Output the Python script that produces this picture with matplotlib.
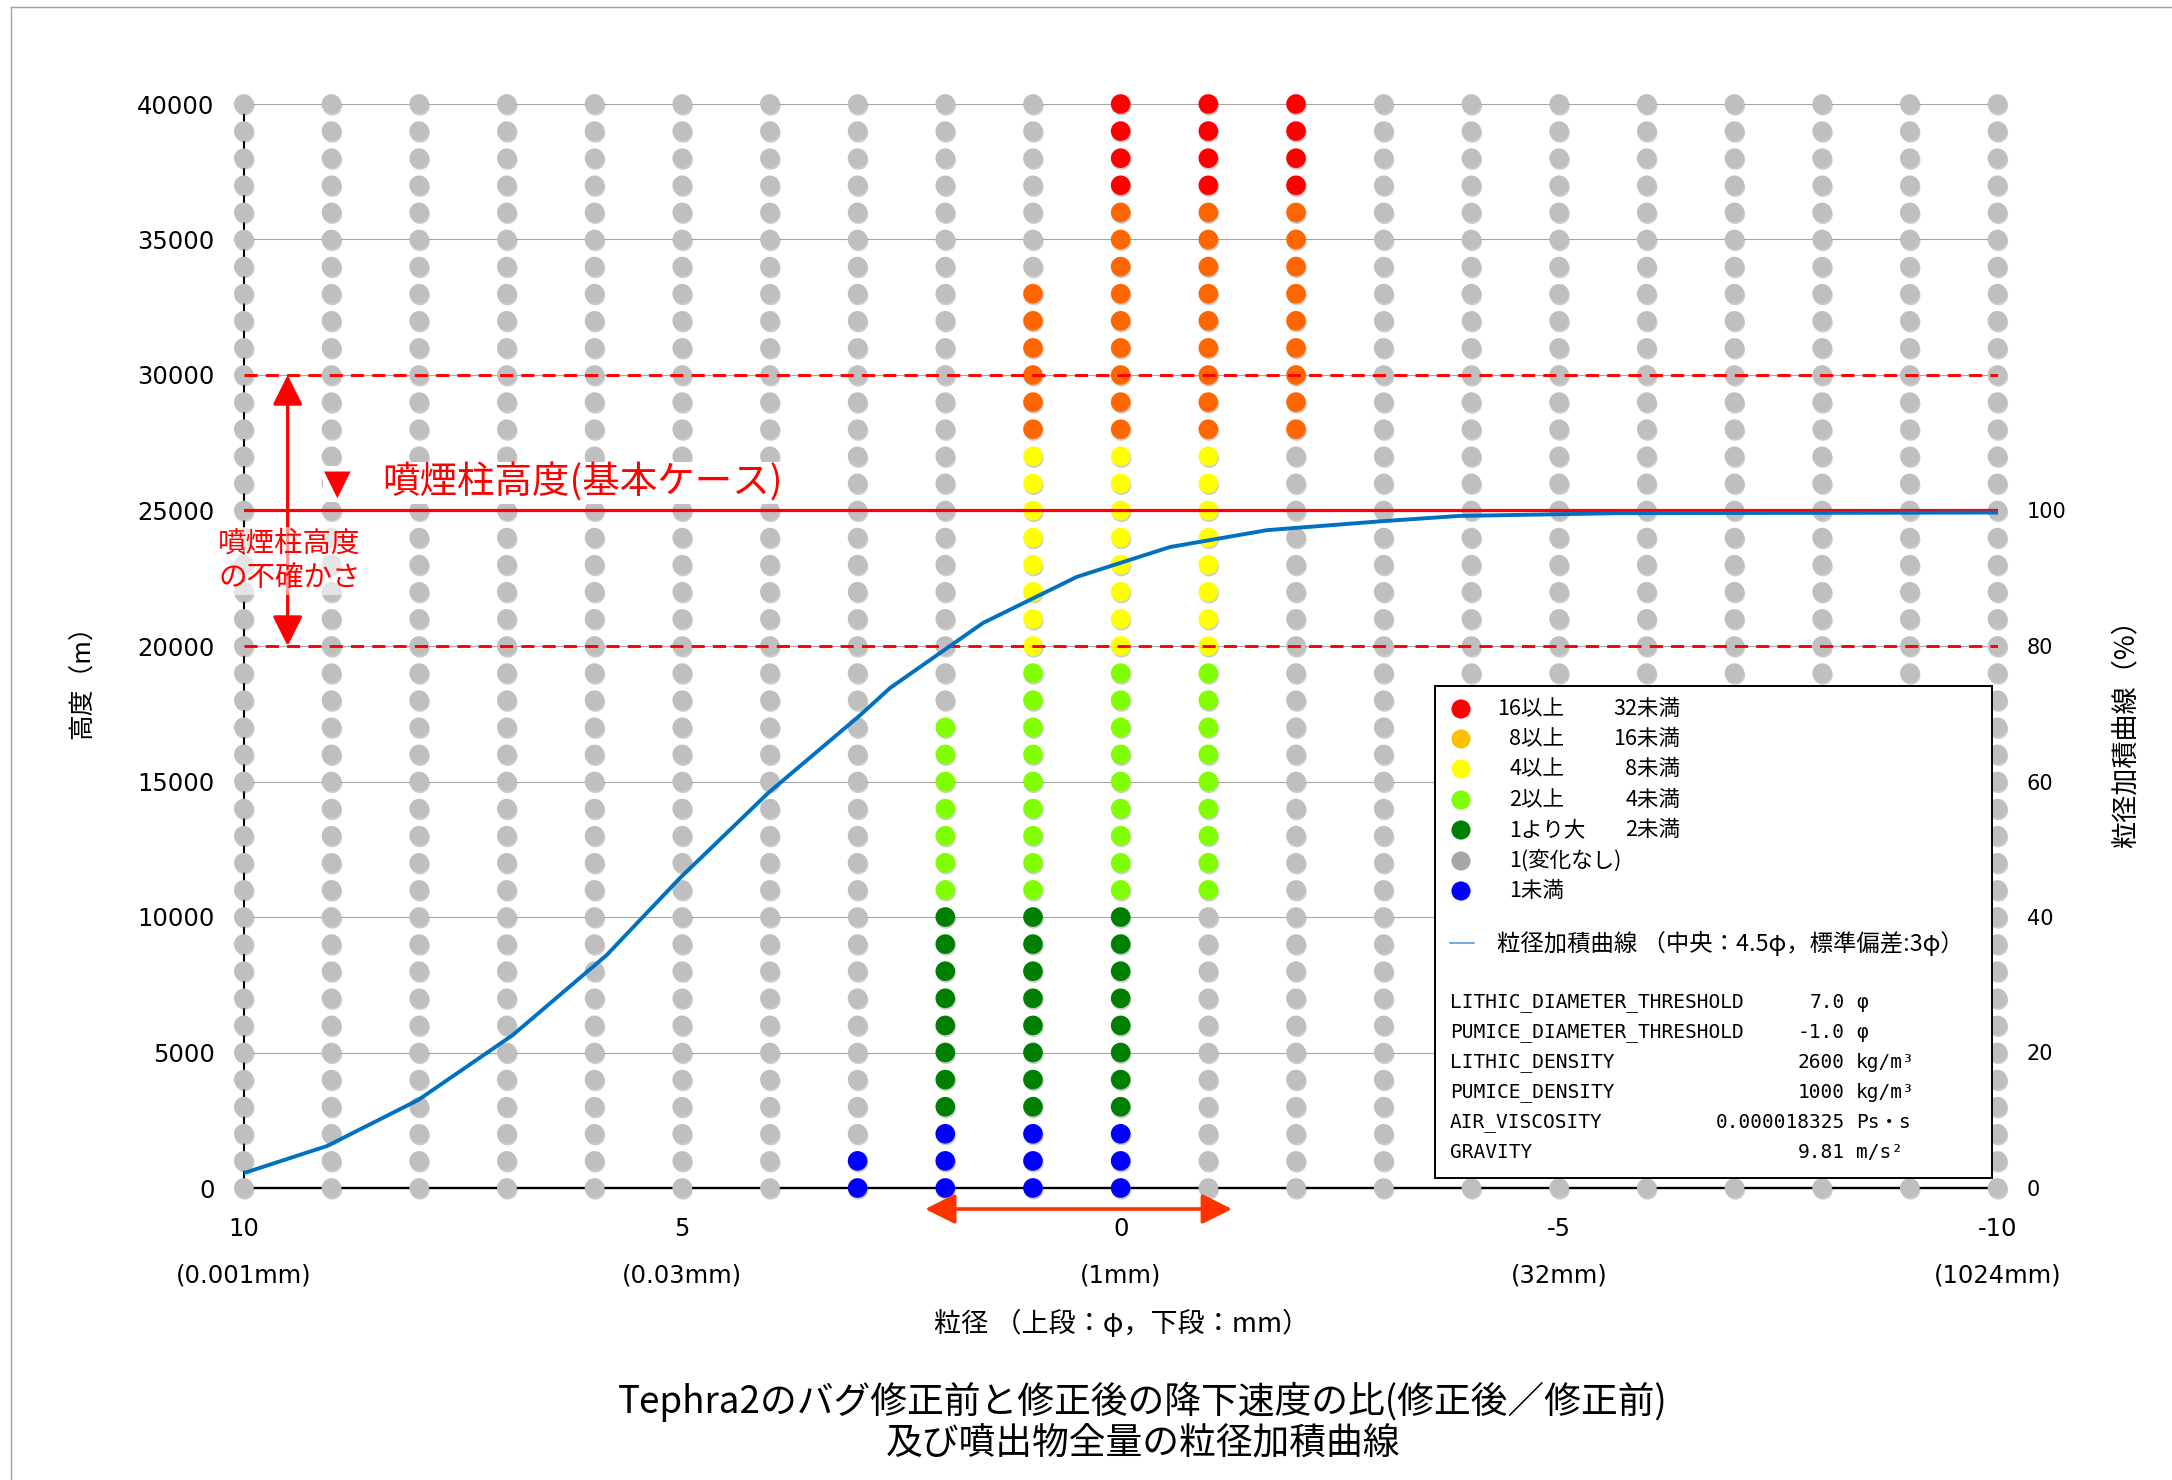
import numpy as np
import matplotlib
matplotlib.use('Agg')
import matplotlib.pyplot as plt
import matplotlib.patheffects as pe
from matplotlib.lines import Line2D

plt.rcParams['font.family'] = ['DejaVu Sans', 'Noto Sans CJK JP']
JP = ['Noto Sans CJK JP', 'DejaVu Sans']

# grain size columns (phi) and column heights (m)
phi = np.arange(10, -11, -1)
heights = np.arange(0, 40001, 1000)

# ratio class per column: (class, lowest height, highest height); everything else is 'gray'
ratio_bands = {
    3: [('blue', 0, 1000)],
    2: [('blue', 0, 2000), ('dgreen', 3000, 10000), ('lgreen', 11000, 17000)],
    1: [('blue', 0, 2000), ('dgreen', 3000, 10000), ('lgreen', 11000, 19000),
        ('yellow', 20000, 27000), ('orange', 28000, 33000)],
    0: [('blue', 0, 2000), ('dgreen', 3000, 10000), ('lgreen', 11000, 19000),
        ('yellow', 20000, 27000), ('orange', 28000, 36000), ('red', 37000, 40000)],
    -1: [('lgreen', 11000, 19000), ('yellow', 20000, 27000),
         ('orange', 28000, 36000), ('red', 37000, 40000)],
    -2: [('orange', 28000, 36000), ('red', 37000, 40000)],
}

# cumulative grain size curve
cum_phi = [10.0, 9.05, 8.01, 6.93, 5.86, 5.03, 4.02, 2.97, 2.63, 1.57, 0.50, -0.56, -1.67, -2.96, -3.86, -5.66, -10.0]
cum_pct = [2.2, 6.2, 13.0, 22.6, 34.4, 45.7, 58.3, 69.8, 73.8, 83.4, 90.2, 94.6, 97.1, 98.4, 99.2, 99.6, 99.7]

dot_colors = {'red': '#FF0000', 'orange': '#FF6600', 'yellow': '#FFFF00', 'lgreen': '#80FF00',
              'dgreen': '#008000', 'gray': '#BFBFBF', 'blue': '#0000FF'}
legend_cats = ['red', 'orange', 'yellow', 'lgreen', 'dgreen', 'gray', 'blue']
legend_colors = ['#FF0000', '#FFC000', '#FFFF00', '#80FF00', '#008000', '#A6A6A6', '#0000FF']
legend_lo = ['16以上', '8以上', '4以上', '2以上', '1より大', '1(変化なし)', '1未満']
legend_hi = ['32未満', '16未満', '8未満', '4未満', '2未満', '', '']

param_names = ['LITHIC_DIAMETER_THRESHOLD', 'PUMICE_DIAMETER_THRESHOLD', 'LITHIC_DENSITY',
               'PUMICE_DENSITY', 'AIR_VISCOSITY', 'GRAVITY']
param_values = ['7.0', '-1.0', '2600', '1000', '0.000018325', '9.81']
param_units = ['φ', 'φ', 'kg/m³', 'kg/m³', 'Ps・s', 'm/s²']

xtick_pos = [10, 5, 0, -5, -10]
xtick_phi = ['10', '5', '0', '-5', '-10']
xtick_mm = ['(0.001mm)', '(0.03mm)', '(1mm)', '(32mm)', '(1024mm)']

W, H = 2172, 1480
fig = plt.figure(figsize=(W / 100, H / 100), dpi=100)
ax = fig.add_axes([243.8 / W, 1 - 1188 / H, 1753.7 / W, 1084 / H])

# dots
xs, ys, cs = [], [], []
for p in phi:
    for h in heights:
        c = 'gray'
        for cat, lo, hi in ratio_bands.get(int(p), []):
            if lo <= h <= hi:
                c = cat
        xs.append(p)
        ys.append(h)
        cs.append(dot_colors[c])
shadow = [pe.SimplePatchShadow(offset=(0.6, -1.3), shadow_rgbFace='#707070', alpha=0.35), pe.Normal()]
ax.scatter(xs, ys, s=200, c=cs, edgecolors='none', zorder=3, clip_on=False, path_effects=shadow)

ax.set_xlim(10, -10)
ax.set_ylim(0, 40000)
ax.set_yticks(range(0, 40001, 5000))
ax.tick_params(axis='y', length=0, pad=21, labelsize=17.5)
ax.set_xticks(xtick_pos, labels=xtick_phi)
ax.tick_params(axis='x', length=0, pad=21, labelsize=17.5)
for x, lab in zip(xtick_pos, xtick_mm):
    ax.text(x, -(1276 - 1188) / 1084, lab, transform=ax.get_xaxis_transform(),
            ha='center', va='center', fontsize=17.5)
ax.grid(axis='y', color='#A6A6A6', lw=0.8)
ax.set_axisbelow(True)
for s in ['top', 'right']:
    ax.spines[s].set_visible(False)
ax.spines['left'].set_linewidth(1.5)
ax.spines['bottom'].set_linewidth(1.7)

# column height lines
ax.axhline(25000, color='red', lw=2.3, zorder=4)
for h in (20000, 30000):
    ax.axhline(h, color='red', lw=2.1, ls=(0, (4.5, 2.8)), zorder=4)

# annotations
ax.annotate('', xy=(9.5, 30000), xytext=(9.5, 20000), zorder=4,
            arrowprops=dict(arrowstyle='<|-|>,head_length=0.8,head_width=0.4', color='red',
                            lw=2.3, mutation_scale=23, shrinkA=0, shrinkB=0))
ax.text(10.29, 23130, '噴煙柱高度\nの不確かさ', color='red', fontsize=20.5, family=JP,
        ha='left', va='center', linespacing=1.2, zorder=6,
        bbox=dict(facecolor='white', edgecolor='none', alpha=0.6, pad=1))
ax.text(8.93, 25980, '▼', color='red', fontsize=25, ha='center', va='center', zorder=6,
        family=['DejaVu Sans'], bbox=dict(facecolor='white', edgecolor='none', pad=1))
ax.text(8.42, 26000, '噴煙柱高度(基本ケース)', color='red', fontsize=27, family=JP,
        ha='left', va='center', zorder=6,
        bbox=dict(facecolor='white', edgecolor='none', pad=1))
ax.annotate('', xy=(2.23, -775), xytext=(-1.27, -775), annotation_clip=False,
            arrowprops=dict(arrowstyle='<|-|>,head_length=0.8,head_width=0.4', color='#FF3300',
                            lw=2.6, mutation_scale=23, shrinkA=0, shrinkB=0))

# cumulative curve on right axis
ax2 = ax.twinx()
ax2.plot(cum_phi, cum_pct, color='#0070C0', lw=2.8, zorder=5)
ax2.set_ylim(0, 160)
ax2.set_yticks(range(0, 101, 20))
ax2.tick_params(axis='y', length=0, pad=21, labelsize=15)
for s in ax2.spines.values():
    s.set_visible(False)

# axis titles and title
fig.text(83 / W, 1 - 676 / H, '高度（m）', rotation=90, ha='center', va='center', fontsize=18.5, family=JP)
fig.text(2126 / W, 1 - 727 / H, '粒径加積曲線（%）', rotation=90, ha='center', va='center', fontsize=19.5, family=JP)
fig.text(1122 / W, 1 - 1324 / H, '粒径 （上段：φ，下段：mm）', ha='center', va='center', fontsize=19.5, family=JP)
fig.text(1143 / W, 1 - 1402 / H, 'Tephra2のバグ修正前と修正後の降下速度の比(修正後／修正前)',
         ha='center', va='center', fontsize=26.5, family=JP)
fig.text(1143 / W, 1 - 1443 / H, '及び噴出物全量の粒径加積曲線',
         ha='center', va='center', fontsize=26.5, family=JP)

# legend box (coordinates in image pixels)
lax = fig.add_axes([1435 / W, 1 - 1178 / H, 557 / W, 492 / H])
lax.set_xlim(1435, 1992)
lax.set_ylim(1178, 686)
lax.set_xticks([])
lax.set_yticks([])
for s in lax.spines.values():
    s.set_linewidth(1.4)
row_y = [709, 739, 769, 800, 830, 861, 891]
for i in range(len(legend_cats)):
    lax.scatter([1461], [row_y[i]], s=190, color=legend_colors[i], edgecolors='none', clip_on=False)
    if legend_hi[i]:
        if i < 4:
            lax.text(1564, row_y[i], legend_lo[i], ha='right', va='center', fontsize=15.5, family=JP)
        else:
            lax.text(1509, row_y[i], legend_lo[i], ha='left', va='center', fontsize=15.5, family=JP)
        lax.text(1680, row_y[i], legend_hi[i], ha='right', va='center', fontsize=15.5, family=JP)
    else:
        lax.text(1509, row_y[i], legend_lo[i], ha='left', va='center', fontsize=15.5, family=JP)
lax.plot([1450, 1474], [943, 943], color='#5B9BD5', lw=1.2)
lax.text(1497, 943, '粒径加積曲線 （中央：4.5φ，標準偏差:3φ）', ha='left', va='center', fontsize=16.8, family=JP)
mono = ['DejaVu Sans Mono', 'Noto Sans CJK JP']
for i, (n, v, u) in enumerate(zip(param_names, param_values, param_units)):
    y = 1002 + 30 * i
    lax.text(1450, y, n, ha='left', va='center', fontsize=14, family=mono)
    lax.text(1845, y, v, ha='right', va='center', fontsize=14, family=mono)
    lax.text(1856, y, u, ha='left', va='center', fontsize=14, family=mono)

# outer frame
fig.add_artist(Line2D([11 / W, 11 / W], [0, 1 - 7 / H], transform=fig.transFigure, color='#A0A0A0', lw=1))
fig.add_artist(Line2D([11 / W, 1], [1 - 7 / H, 1 - 7 / H], transform=fig.transFigure, color='#A0A0A0', lw=1))

fig.savefig('out.png', dpi=100)
